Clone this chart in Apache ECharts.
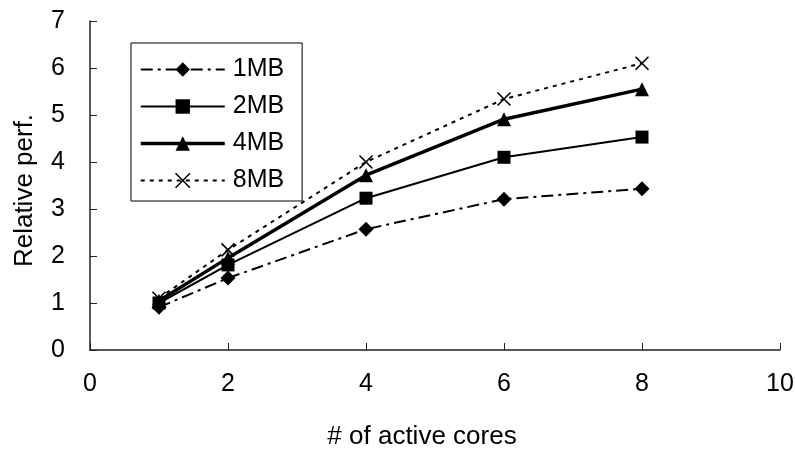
<!DOCTYPE html>
<html>
<head>
<meta charset="utf-8">
<script src="https://cdn.jsdelivr.net/npm/echarts@6/dist/echarts.min.js"></script>
<style>html,body{margin:0;padding:0;background:#fff;}#c{width:795px;height:451px;}</style>
</head>
<body>
<div id="c"></div>
<script>
const cores = [1, 2, 4, 6, 8];
const seriesNames = ['1MB', '2MB', '4MB', '8MB'];
const perf1MB = [0.91, 1.53, 2.57, 3.21, 3.43];
const perf2MB = [1.0, 1.81, 3.23, 4.1, 4.53];
const perf4MB = [1.05, 1.96, 3.72, 4.91, 5.55];
const perf8MB = [1.1, 2.13, 4.0, 5.34, 6.1];
const xTicks = [0, 2, 4, 6, 8, 10];
const yTicks = [0, 1, 2, 3, 4, 5, 6, 7];

const FONT = 'Liberation Sans, Arial, sans-serif';
const pair = (vals) => cores.map((x, i) => [x, vals[i]]);
const crossPath = 'path://M0,0L10,10M10,0L0,10';

const styles = [
  {symbol: 'diamond', symbolSize: 15, line: {color: '#000', width: 2, type: [12, 5, 3, 5]}, item: {color: '#000'}},
  {symbol: 'rect', symbolSize: 13, line: {color: '#000', width: 2, type: 'solid'}, item: {color: '#000'}},
  {symbol: 'triangle', symbolSize: 14, line: {color: '#000', width: 3.5, type: 'solid'}, item: {color: '#000'}},
  {symbol: crossPath, symbolSize: 13, line: {color: '#000', width: 2, type: [4, 5]}, item: {color: '#000', borderColor: '#000', borderWidth: 1.6}}
];
const values = [perf1MB, perf2MB, perf4MB, perf8MB];

const chart = echarts.init(document.getElementById('c'), null, {renderer: 'canvas'});
chart.setOption({
  backgroundColor: '#fff',
  animation: false,
  grid: {left: 90, right: 15, top: 21, bottom: 101, containLabel: false, outerBoundsMode: 'none'},
  legend: {
    orient: 'vertical',
    left: 131, top: 43,
    padding: [14, 18, 8, 8],
    itemWidth: 84, itemHeight: 18, itemGap: 12,
    borderColor: '#000', borderWidth: 1,
    data: seriesNames.map((n, i) => ({name: n, lineStyle: styles[i].line, itemStyle: styles[i].item})),
    textStyle: {fontFamily: FONT, fontSize: 25, color: '#000', padding: [0, 0, 0, 3]}
  },
  xAxis: {
    type: 'value', min: xTicks[0], max: xTicks[xTicks.length - 1], interval: 2,
    name: '# of active cores', nameLocation: 'middle', nameGap: 74,
    nameTextStyle: {fontFamily: FONT, fontSize: 26, color: '#000', padding: [0, 26, 0, 0]},
    axisLine: {show: true, lineStyle: {color: '#222', width: 1.5}},
    axisTick: {show: true, inside: true, length: 7, lineStyle: {color: '#222', width: 1}},
    axisLabel: {fontFamily: FONT, fontSize: 25, color: '#000', margin: 22},
    splitLine: {show: false}
  },
  yAxis: {
    type: 'value', min: yTicks[0], max: yTicks[yTicks.length - 1], interval: 1,
    name: 'Relative perf.', nameLocation: 'middle', nameGap: 52, nameRotate: 90,
    nameTextStyle: {fontFamily: FONT, fontSize: 26, color: '#000', padding: [0, 10, 0, 0]},
    axisLine: {show: true, lineStyle: {color: '#222', width: 1.5}},
    axisTick: {show: true, inside: true, length: 7, lineStyle: {color: '#222', width: 1}},
    axisLabel: {fontFamily: FONT, fontSize: 25, color: '#000', margin: 25},
    splitLine: {show: false}
  },
  series: seriesNames.map((n, i) => ({
    name: n, type: 'line', data: pair(values[i]),
    symbol: styles[i].symbol, symbolSize: styles[i].symbolSize,
    itemStyle: styles[i].item, lineStyle: styles[i].line
  }))
});
</script>
</body>
</html>
